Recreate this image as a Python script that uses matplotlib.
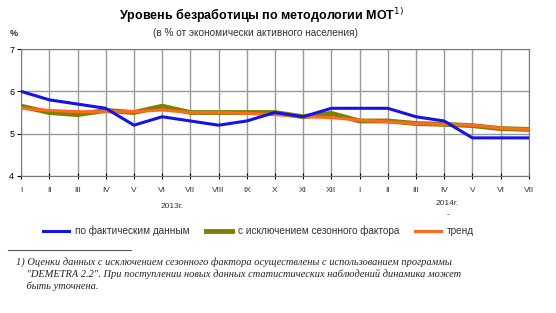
import matplotlib
matplotlib.use("Agg")
import matplotlib.pyplot as plt

# months Jan 2013 .. Jul 2014
months = ['I', 'II', 'III', 'IV', 'V', 'VI', 'VII', 'VIII', 'IX', 'X', 'XI', 'XII',
          'I', 'II', 'III', 'IV', 'V', 'VI', 'VII']
actual = [6.0, 5.8, 5.7, 5.6, 5.2, 5.4, 5.3, 5.2, 5.3, 5.5, 5.4, 5.6,
          5.6, 5.6, 5.4, 5.3, 4.9, 4.9, 4.9]
seasonal = [5.65, 5.5, 5.45, 5.55, 5.5, 5.65, 5.5, 5.5, 5.5, 5.5, 5.4, 5.48,
            5.3, 5.3, 5.24, 5.22, 5.19, 5.12, 5.1]
trend = [5.6, 5.55, 5.52, 5.52, 5.52, 5.56, 5.5, 5.5, 5.48, 5.45, 5.4, 5.38,
         5.32, 5.28, 5.24, 5.22, 5.2, 5.13, 5.1]
labels = ['по фактическим данным', 'с исключением сезонного фактора', 'тренд']

plt.rcParams['font.family'] = ['Liberation Sans', 'DejaVu Sans']

fig = plt.figure(figsize=(5.56, 3.13), dpi=100)
ax = fig.add_axes([0.038, 0.438, 0.913, 0.405])

x = list(range(len(months)))
l1, = ax.plot(x, actual, color='#1414e6', lw=2.2, zorder=4)
l2, = ax.plot(x, seasonal, color='#7f7f00', lw=3.5, zorder=2)
l3, = ax.plot(x, trend, color='#ff6a1e', lw=2.2, zorder=3)

ax.set_xlim(0, len(months) - 1)
ax.set_ylim(4, 7)
ax.set_yticks([4, 5, 6, 7])
ax.set_xticks(x)
ax.set_xticklabels(months, fontsize=6, color='#333333')
ax.tick_params(axis='y', labelsize=6.5, length=3, pad=2)
ax.tick_params(axis='x', length=4, direction='inout', pad=6)
ax.grid(True, color='#999999', lw=1)
for s in ax.spines.values():
    s.set_color('#777777')

fig.text(0.47, 0.935, 'Уровень безработицы по методологии МОТ$^{1)}$', ha='center',
         fontsize=9, fontweight='bold')
fig.text(0.46, 0.885, '(в % от экономически активного населения)', ha='center',
         fontsize=7.2, color='#333333')
fig.text(0.018, 0.885, '%', fontsize=6.5, fontweight='bold', color='#333333')

fig.text(0.31, 0.335, '2013г.', ha='center', fontsize=6, color='#333333')
fig.text(0.805, 0.345, '2014г.', ha='center', fontsize=6, color='#333333')
fig.text(0.805, 0.31, '-', ha='center', fontsize=6, color='#333333')

fig.legend([l1, l2, l3], labels, loc='center', bbox_to_anchor=(0.465, 0.262), ncol=3,
           frameon=False, fontsize=7.2, handlelength=2.6, handletextpad=0.6,
           columnspacing=1.6, labelcolor='#333333')

fig.add_artist(plt.Line2D([0.015, 0.235], [0.2, 0.2], color='#555555', lw=0.8))
note = ('1) Оценки данных с исключением сезонного фактора осуществлены с использованием программы\n'
        '    "DEMETRA 2.2". При поступлении новых данных статистических наблюдений динамика может\n'
        '    быть уточнена.')
fig.text(0.028, 0.18, note, fontsize=7.5, style='italic', va='top', linespacing=1.3,
         family=['Liberation Serif', 'DejaVu Serif'], color='#222222')

fig.savefig('out.png', dpi=100, facecolor='white')
